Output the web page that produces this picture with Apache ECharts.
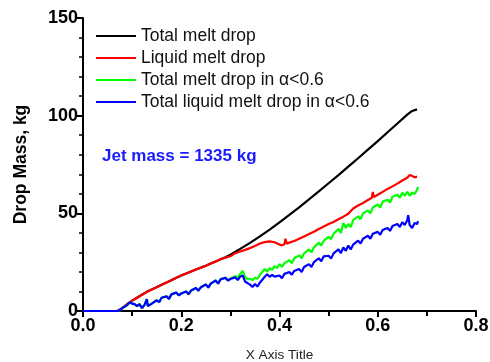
<!DOCTYPE html>
<html>
<head>
<meta charset="utf-8">
<script src="https://cdn.jsdelivr.net/npm/echarts@6/dist/echarts.min.js"></script>
<style>html,body{margin:0;padding:0;background:#fff}#c{width:490px;height:362px}</style>
</head>
<body>
<div id="c"></div>
<script>
var seriesNames = ['Total melt drop', 'Liquid melt drop', 'Total melt drop in \u03b1<0.6', 'Total liquid melt drop in \u03b1<0.6'];
var xTicks = [0, 0.2, 0.4, 0.6, 0.8];
var yTicks = [0, 50, 100, 150];

var totalMelt = [
[0,0],[0.07,0],[0.08,1.5],[0.09,3.5],[0.10,5.3],[0.11,6.8],[0.12,8.3],[0.13,9.8],[0.14,11],[0.15,12.2],
[0.16,13.4],[0.17,14.6],[0.18,15.8],[0.19,17],[0.20,18.2],[0.21,19.2],[0.22,20.2],[0.23,21.2],[0.24,22.2],
[0.25,23.2],[0.26,24.3],[0.27,25.4],[0.28,26.5],[0.29,27.5],[0.30,28.8],[0.32,31.8],[0.34,34.9],[0.36,38.2],
[0.38,41.7],[0.40,45.4],[0.42,49.2],[0.44,53.1],[0.46,57.1],[0.48,61.2],[0.50,65.4],[0.52,69.6],[0.54,73.9],
[0.56,78.2],[0.58,82.6],[0.60,87],[0.62,91.5],[0.64,96],[0.66,100.5],[0.67,102.4],[0.68,103.2]
];
var liquidMelt = [
[0,0],[0.07,0],[0.08,1.5],[0.09,3.5],[0.10,5.3],[0.11,6.8],[0.12,8.3],[0.13,9.8],[0.14,11],[0.15,12.2],
[0.16,13.4],[0.17,14.6],[0.18,15.8],[0.19,17],[0.20,18.2],[0.21,19.2],[0.22,20.2],[0.23,21.2],[0.24,22.2],
[0.25,23.2],[0.26,24.3],[0.27,25.4],[0.28,26.5],[0.29,27.3],[0.30,28],[0.31,29.6],[0.32,30.5],[0.33,31.3],
[0.34,32.2],[0.35,33.3],[0.36,34.5],[0.37,35.3],[0.38,35.6],[0.39,35.2],[0.40,34],[0.405,33.6],[0.41,34.2],
[0.412,37],[0.415,34.5],[0.42,35],[0.43,35.8],[0.44,37],[0.45,38.2],[0.46,39.4],[0.47,40.6],[0.48,42],
[0.49,43.3],[0.50,44.5],[0.51,45.6],[0.52,47],[0.53,48.3],[0.54,49.8],[0.55,52.5],[0.56,54],[0.57,55.3],
[0.58,56.8],[0.588,58],[0.59,61],[0.592,58.3],[0.60,59.5],[0.61,61],[0.62,62.5],[0.63,63.8],[0.64,65.2],
[0.65,66.8],[0.66,68.2],[0.665,69.6],[0.67,69.2],[0.675,68.4],[0.68,68.8]
];
var totalMeltAlpha = [
[0,0],[0.07,0],[0.075,0.3],[0.08,1.5],[0.09,3],[0.095,4.5],[0.10,3.8],[0.105,3.5],[0.11,2.5],[0.115,3.5],
[0.12,1.5],[0.125,3],[0.13,6],[0.132,2.5],[0.14,3.8],[0.15,5.5],[0.155,4.5],[0.16,6.8],[0.17,7.5],[0.175,6.2],
[0.18,8.5],[0.19,9.5],[0.195,8],[0.20,9],[0.21,10],[0.215,8.6],[0.22,10.5],[0.23,11.8],[0.235,10.4],[0.24,12.2],
[0.25,13.6],[0.255,12],[0.26,14],[0.27,15.6],[0.275,14],[0.28,16.2],[0.29,17],[0.295,15.6],[0.30,16.6],
[0.31,17.8],[0.315,17.2],[0.32,19],[0.325,20.5],[0.33,17.5],[0.335,16.2],[0.34,16.5],[0.345,15.8],[0.35,17],
[0.355,16.5],[0.36,18.5],[0.365,20],[0.37,21.5],[0.375,20.2],[0.38,22],[0.385,21],[0.39,23],[0.395,22],
[0.40,24],[0.405,22.6],[0.41,24.5],[0.42,26],[0.425,24.5],[0.43,27],[0.44,28.5],[0.445,27],[0.45,29.5],
[0.46,31.5],[0.465,30],[0.47,32.5],[0.48,35],[0.485,33.5],[0.49,36],[0.50,38],[0.505,36.8],[0.51,39.5],
[0.52,42],[0.525,40],[0.53,45],[0.535,42.5],[0.54,44.5],[0.545,43],[0.55,46.5],[0.56,48.5],[0.565,47],
[0.57,50],[0.58,51.5],[0.585,50],[0.59,53],[0.60,54.5],[0.605,53],[0.61,56],[0.62,57],[0.625,55.5],
[0.63,58.5],[0.64,59.5],[0.645,58],[0.65,60.5],[0.655,59],[0.66,61],[0.665,59],[0.67,60.5],[0.675,60],
[0.68,62],[0.682,63.5]
];
var liquidMeltAlpha = [
[0,0],[0.07,0],[0.075,0.3],[0.08,1.5],[0.09,3],[0.095,4.5],[0.10,3.8],[0.105,3.5],[0.11,2.5],[0.115,3.5],
[0.12,1.5],[0.125,3],[0.13,6],[0.132,2.5],[0.14,3.8],[0.15,5.5],[0.155,4.5],[0.16,6.8],[0.17,7.5],[0.175,6.2],
[0.18,8.5],[0.19,9.5],[0.195,8],[0.20,9],[0.21,10],[0.215,8.6],[0.22,10.5],[0.23,11.8],[0.235,10.4],[0.24,12.2],
[0.25,13.6],[0.255,12],[0.26,14],[0.27,15.6],[0.275,14],[0.28,16.2],[0.29,17],[0.295,15.6],[0.30,16.4],
[0.31,17.2],[0.315,15.8],[0.32,17.6],[0.325,18.2],[0.33,15],[0.335,14.3],[0.34,13.5],[0.345,12.3],[0.35,13.8],
[0.355,12.5],[0.36,14.5],[0.365,16],[0.37,17.5],[0.375,18.8],[0.38,17.5],[0.385,18.5],[0.39,17.6],[0.40,18.2],
[0.405,16.8],[0.41,19],[0.42,20],[0.425,18.6],[0.43,20.5],[0.44,21.5],[0.445,20],[0.45,22.5],[0.46,24],
[0.465,22.5],[0.47,25],[0.48,27],[0.485,25.5],[0.49,28],[0.50,28.3],[0.505,26.8],[0.51,29.5],[0.52,31.5],
[0.525,29.6],[0.53,32.5],[0.535,30.8],[0.54,33.5],[0.545,31.5],[0.55,34],[0.56,36],[0.565,34.6],[0.57,37],
[0.58,38.5],[0.585,37],[0.59,39.5],[0.60,40.5],[0.605,39],[0.61,41.5],[0.62,42.5],[0.625,41],[0.63,43.5],
[0.64,44.5],[0.645,43],[0.65,45.5],[0.655,44],[0.66,46.5],[0.662,49],[0.665,44],[0.67,42.5],[0.675,45],
[0.68,44.5],[0.682,46]
];
var seriesData = [totalMelt, liquidMelt, totalMeltAlpha, liquidMeltAlpha];
var colors = ['#000000', '#ff0000', '#00ff00', '#0000ff'];
var annotation = 'Jet mass = 1335 kg';

var FONT = '"Liberation Sans", Arial, sans-serif';
var chart = echarts.init(document.getElementById('c'), null, {renderer: 'canvas'});
chart.setOption({
  animation: false,
  backgroundColor: '#ffffff',
  grid: {left: 83, right: 14, top: 18, bottom: 51, containLabel: false, outerBoundsMode: 'none'},
  legend: {
    orient: 'vertical', left: 96, top: 27, padding: 0,
    itemWidth: 40, itemHeight: 2, itemGap: 4,
    icon: 'rect',
    textStyle: {fontFamily: FONT, fontSize: 17.5, color: '#111', lineHeight: 18},
    data: seriesNames.map(function (n, i) { return {name: n, itemStyle: {color: colors[i]}}; })
  },
  xAxis: {
    type: 'value', min: xTicks[0], max: xTicks[xTicks.length - 1], interval: 0.2,
    name: 'X Axis Title', nameLocation: 'middle', nameGap: 37,
    nameTextStyle: {fontFamily: FONT, fontSize: 13.6, color: '#222'},
    axisLine: {lineStyle: {color: '#000', width: 2}},
    axisTick: {show: true, inside: false, length: 6, lineStyle: {color: '#000', width: 2}},
    minorTick: {show: true, splitNumber: 2, length: 5, lineStyle: {color: '#000', width: 2}},
    splitLine: {show: false},
    axisLabel: {fontFamily: FONT, fontSize: 18, fontWeight: 'bold', color: '#000', margin: 6,
      formatter: function (v) { return v.toFixed(1); }}
  },
  yAxis: {
    type: 'value', min: yTicks[0], max: yTicks[yTicks.length - 1], interval: 50,
    name: 'Drop Mass, kg', nameLocation: 'middle', nameGap: 53,
    nameTextStyle: {fontFamily: FONT, fontSize: 17.5, fontWeight: 'bold', color: '#000'},
    axisLine: {show: true, lineStyle: {color: '#000', width: 2}},
    axisTick: {show: true, inside: false, length: 6, lineStyle: {color: '#000', width: 2}},
    minorTick: {show: true, splitNumber: 5, length: 4, lineStyle: {color: '#000', width: 1.5}},
    splitLine: {show: false},
    axisLabel: {fontFamily: FONT, fontSize: 18, fontWeight: 'bold', color: '#000', margin: 5}
  },
  graphic: [{
    type: 'text', left: 102, top: 148,
    style: {text: annotation, font: 'bold 17px ' + FONT, fill: '#1a1aff'}
  }],
  series: seriesData.map(function (d, i) {
    return {
      name: seriesNames[i], type: 'line', data: d, showSymbol: false, symbol: 'none',
      lineStyle: {color: colors[i], width: 2.2}, itemStyle: {color: colors[i]},
      z: 2 + i
    };
  })
});
</script>
</body>
</html>
